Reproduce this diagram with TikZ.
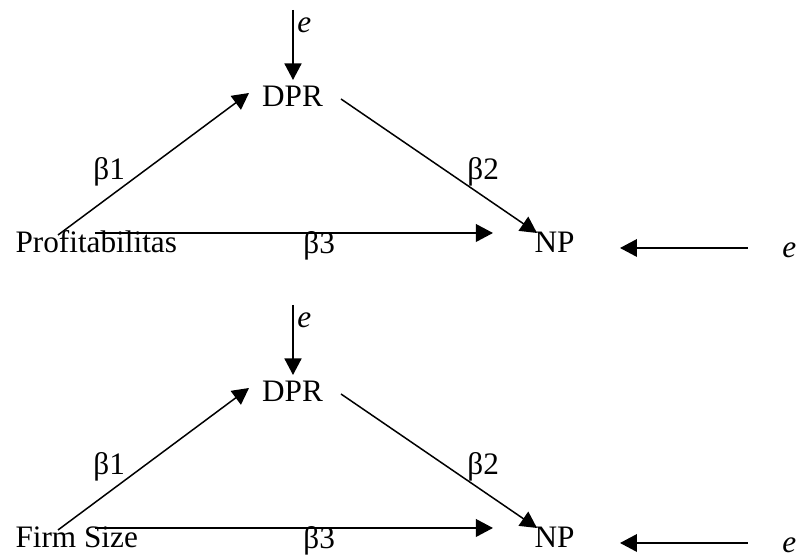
\documentclass[tikz,border=0pt]{standalone}
\usepackage{fontspec}
\setmainfont{Liberation Serif}
\usetikzlibrary{arrows.meta}
\tikzset{
  lbl/.style={inner sep=0pt, font=\fontsize{12.5}{14}\selectfont},
  conn/.style={line width=0.6pt, -{Triangle[length=6.6pt,width=6.8pt]}},
  hconn/.style={line width=0.8pt, -{Triangle[length=6.8pt,width=7pt]}},
}
\begin{document}
\begin{tikzpicture}[x=0.4pt, y=-0.4pt]
\useasboundingbox (0,0) rectangle (796,557);
% ---------- top diagram ----------
\node[lbl, anchor=base] (dpr1) at (292.5,107) {DPR};
\node[lbl, anchor=base west] (pr1) at (15,253) {Profitabilitas};
\node[lbl, anchor=base west] (np1) at (534,253) {NP};
\node[lbl, anchor=base west] (et1) at (297,33) {\textit{e}};
\node[lbl, anchor=base west] (er1) at (782,258) {\textit{e}};
\node[lbl, anchor=base west] (b11) at (93,180) {β1};
\node[lbl, anchor=base west] (b21) at (467,180) {β2};
\node[lbl, anchor=base west] (b31) at (303,254) {β3};
\draw[conn] ([shift={(-4,-23)}]et1.base west) -- ([shift={(0.5,-27)}]dpr1.base);
\draw[conn] ([shift={(43,-18)}]pr1.base west) -- ([shift={(-43.5,-14)}]dpr1.base);
\draw[conn] ([shift={(48.5,-8)}]dpr1.base) -- ([shift={(3,-20)}]np1.base west);
\draw[hconn] ([shift={(80,-20)}]pr1.base west) -- ([shift={(-41,-20)}]np1.base west);
\draw[hconn] ([shift={(-34,-10)}]er1.base west) -- ([shift={(86,-5)}]np1.base west);
% ---------- bottom diagram ----------
\begin{scope}[shift={(0,295)}]
\node[lbl, anchor=base] (dpr2) at (292.5,107) {DPR};
\node[lbl, anchor=base west] (pr2) at (15,253) {Firm Size};
\node[lbl, anchor=base west] (np2) at (534,253) {NP};
\node[lbl, anchor=base west] (et2) at (297,33) {\textit{e}};
\node[lbl, anchor=base west] (er2) at (782,258) {\textit{e}};
\node[lbl, anchor=base west] (b12) at (93,180) {β1};
\node[lbl, anchor=base west] (b22) at (467,180) {β2};
\node[lbl, anchor=base west] (b32) at (303,254) {β3};
\end{scope}
\draw[conn] ([shift={(-4,-23)}]et2.base west) -- ([shift={(0.5,-27)}]dpr2.base);
\draw[conn] ([shift={(43,-18)}]pr2.base west) -- ([shift={(-43.5,-14)}]dpr2.base);
\draw[conn] ([shift={(48.5,-8)}]dpr2.base) -- ([shift={(3,-20)}]np2.base west);
\draw[hconn] ([shift={(80,-20)}]pr2.base west) -- ([shift={(-41,-20)}]np2.base west);
\draw[hconn] ([shift={(-34,-10)}]er2.base west) -- ([shift={(86,-5)}]np2.base west);
\end{tikzpicture}
\end{document}
